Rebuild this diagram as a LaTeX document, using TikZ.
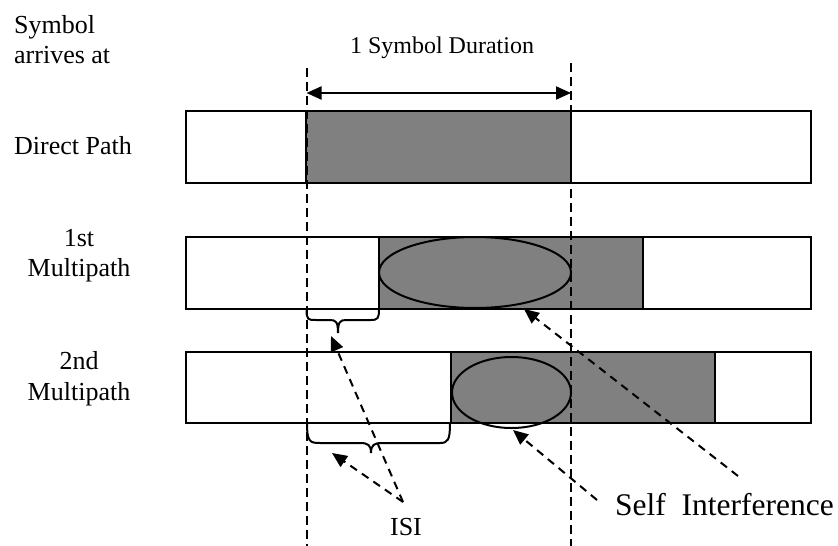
\documentclass[tikz,border=0pt]{standalone}
\usepackage{fontspec}
\setmainfont{Liberation Serif}
\usetikzlibrary{arrows.meta}
\definecolor{symgray}{HTML}{808080}
\begin{document}
\begin{tikzpicture}[x=1pt,y=-1pt,
  bar/.style={draw=black,line width=2pt,fill=white},
  sym/.style={draw=black,line width=2pt,fill=symgray},
  ell/.style={draw=black,line width=2pt},
  vdash/.style={line width=2pt,dash pattern=on 9pt off 5pt},
  ptr/.style={line width=2pt,dash pattern=on 8pt off 6pt,-{Triangle[length=15pt,width=13pt]}},
  dur/.style={line width=2pt,{Triangle[length=15pt,width=13pt]}-{Triangle[length=15pt,width=13pt]}},
  brc/.style={line width=2pt},
  lbl/.style={font=\fontsize{26}{30}\selectfont,inner sep=0pt},
]
\useasboundingbox (0,0) rectangle (838,546);

% labels (base anchor = baseline of last line)
\node[lbl,anchor=base west,align=left] (arr) at (14,63) {Symbol\\arrives at};
\node[lbl,anchor=base west] (dp) at (14,154) {Direct Path};
\node[lbl,anchor=base,align=center] (mp1) at (79,276) {1st\\Multipath};
\node[lbl,anchor=base,align=center,font=\fontsize{26}{31}\selectfont] (mp2) at (79,400) {2nd\\Multipath};
\node[lbl,anchor=base,font=\fontsize{24}{28}\selectfont] (sd) at (442,53) {1 Symbol Duration};
\node[lbl,anchor=base] (isi) at (406,535) {ISI};
\node[lbl,anchor=base west,font=\fontsize{31.5}{36}\selectfont] (si) at (615,515) {Self\ \ Interference};

% bars
\draw[bar] (186,111) rectangle (811,183);
\draw[sym] (306,111) rectangle (571,183);
\draw[bar] (186,237) rectangle (811,309);
\draw[sym] (379,237) rectangle (643,309);
\draw[bar] (186,352) rectangle (811,423);
\draw[sym] (451,352) rectangle (715,423);

% ellipses
\draw[ell] (475,272.5) ellipse [x radius=96, y radius=35.5];
\draw[ell] (511.5,392.5) ellipse [x radius=59.5, y radius=35.5];

% vertical dashed lines
\coordinate (lt) at (306.5,68);
\coordinate (lb) at (306.5,546);
\coordinate (rt) at (571,63);
\coordinate (rb) at (571,546);
\draw[vdash] (lt) -- (lb);
\draw[vdash] (rt) -- (rb);

% duration arrow
\coordinate (da) at (306.5,93);
\coordinate (db) at (571,93);
\draw[dur] (da) -- (db);

% braces
\draw[brc] (306.5,309) .. controls (306.5,320) and (308,320) .. (316,320) -- (330,320)
  .. controls (336,320) and (338,322) .. (338,333)
  .. controls (338,322) and (340,320) .. (346,320) -- (371,320)
  .. controls (378,320) and (379,318) .. (379,309);
\draw[brc] (307,423) .. controls (307,442) and (310,443) .. (320,443) -- (360,443)
  .. controls (368,443) and (371,445) .. (371,453)
  .. controls (371,445) and (374,443) .. (382,443) -- (440,443)
  .. controls (448,443) and (450,440) .. (450,423);

% pointers
\coordinate (isiA) at (403,502);
\coordinate (b1) at (331,336);
\coordinate (b2) at (332,453);
\draw[ptr] (isiA) -- (b1);
\draw[ptr] (isiA) -- (b2);
\coordinate (siA) at (738,476);
\coordinate (siB) at (597,500);
\coordinate (e1) at (524,309);
\coordinate (e2) at (513,430);
\draw[ptr] (siA) -- (e1);
\draw[ptr] (siB) -- (e2);
\end{tikzpicture}
\end{document}
